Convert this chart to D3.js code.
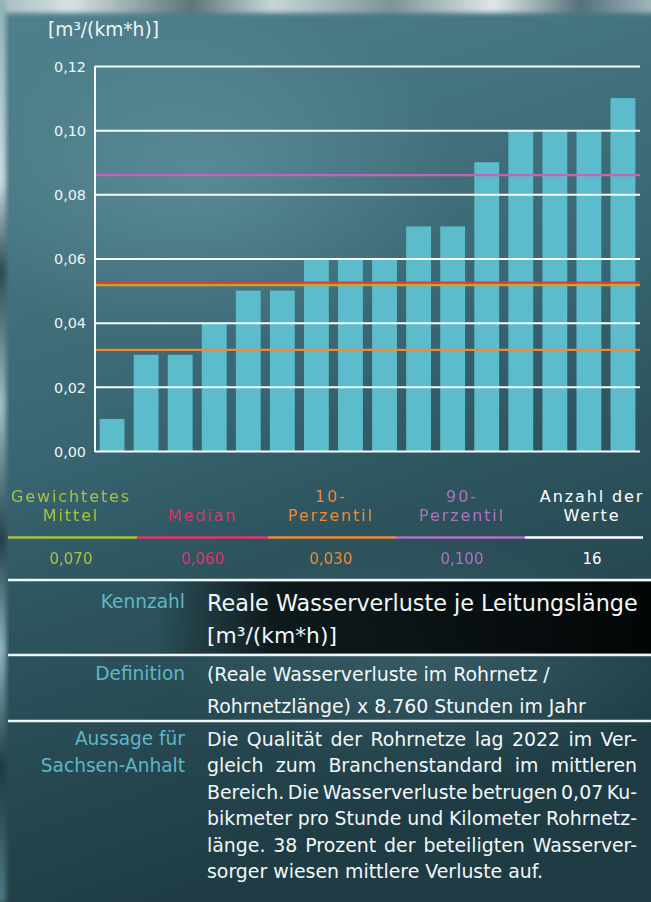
<!DOCTYPE html>
<html>
<head>
<meta charset="utf-8">
<script src="https://cdn.jsdelivr.net/npm/d3@7"></script>
<style>
  html, body { margin: 0; padding: 0; background: #3b6a76; }
  svg { display: block; font-family: "DejaVu Sans", "Noto Sans", sans-serif; }
</style>
</head>
<body>
<div id="chart"></div>
<script>
// Real water losses per pipe length, one bar per utility (sorted)
const barValues = [0.01, 0.03, 0.03, 0.04, 0.05, 0.05, 0.06, 0.06, 0.06, 0.07, 0.07, 0.09, 0.10, 0.10, 0.10, 0.11];
const yTicks = [0, 0.02, 0.04, 0.06, 0.08, 0.10, 0.12];
const yUnit = "[m³/(km*h)]";

// Reference lines drawn across the bars
const refKeys = ["mittel", "median", "p10", "p90"];
const refLevels = [0.0517, 0.0525, 0.0315, 0.086];

// Summary table under the chart
const statKeys = ["mittel", "median", "p10", "p90", "anzahl"];
const statHeads = [["Gewichtetes", "Mittel"], ["Median"], ["10-", "Perzentil"], ["90-", "Perzentil"], ["Anzahl der", "Werte"]];
const statValues = ["0,070", "0,060", "0,030", "0,100", "16"];

// Description rows
const rowLabels = [["Kennzahl"], ["Definition"], ["Aussage für", "Sachsen-Anhalt"]];
const rowTexts = [
  ["Reale Wasserverluste je Leitungslänge", "[m³/(km*h)]"],
  ["(Reale Wasserverluste im Rohrnetz /", "Rohrnetzlänge) x 8.760 Stunden im Jahr"],
  ["Die Qualität der Rohrnetze lag 2022 im Ver-",
   "gleich zum Branchenstandard im mittleren",
   "Bereich. Die Wasserverluste betrugen 0,07 Ku-",
   "bikmeter pro Stunde und Kilometer Rohrnetz-",
   "länge. 38 Prozent der beteiligten Wasserver-",
   "sorger wiesen mittlere Verluste auf."]
];

const colors = {
  mittel: "#a8c23c", median: "#e8336b", p10: "#ee8a3a", p90: "#b36fc2", anzahl: "#ffffff",
  bar: "#5cbccb", grid: "#f4fbfc", label: "#5fb6c9", text: "#f2f7f8"
};
const refColors = { mittel: "#c9a52a", median: "#e23a4a", p10: "#e98a3c", p90: "#c264b8" };

const W = 651, H = 902;
const svg = d3.select("#chart").append("svg").attr("width", W).attr("height", H);
const defs = svg.append("defs");

// font size at which a text run spans the given width
function sizeFor(sel, width) {
  const node = sel.node();
  const s = parseFloat(sel.attr("font-size"));
  return s * width / node.getComputedTextLength();
}
// word spacing that stretches a line to the given width (justified text)
function justify(sel, width) {
  const node = sel.node();
  const gaps = (node.textContent.match(/ /g) || []).length;
  if (gaps) sel.attr("word-spacing", (width - node.getComputedTextLength()) / gaps);
}
const byText = t => function () { return this.textContent === t; };

// ---- background ----
const bg = defs.append("linearGradient").attr("id", "bg").attr("x1", 0).attr("y1", 0).attr("x2", 0.25).attr("y2", 1);
[[0, "#4f818e"], [0.25, "#44747f"], [0.5, "#386571"], [0.62, "#2f5862"], [0.8, "#284a53"], [1, "#1f3c44"]]
  .forEach(([o, c]) => bg.append("stop").attr("offset", o).attr("stop-color", c));
svg.append("rect").attr("width", W).attr("height", H).attr("fill", "url(#bg)");

const glow = defs.append("radialGradient").attr("id", "glow").attr("cx", 0.5).attr("cy", 0.5).attr("r", 0.5);
glow.append("stop").attr("offset", 0).attr("stop-color", "#7fb2be").attr("stop-opacity", 0.35);
glow.append("stop").attr("offset", 1).attr("stop-color", "#7fb2be").attr("stop-opacity", 0);
svg.append("ellipse").attr("cx", 200).attr("cy", 180).attr("rx", 260).attr("ry", 170).attr("fill", "url(#glow)");
svg.append("ellipse").attr("cx", 430).attr("cy", 660).attr("rx", 260).attr("ry", 120).attr("fill", "url(#glow)").attr("opacity", 0.5);

const blur = defs.append("filter").attr("id", "soft").attr("x", -0.2).attr("y", -0.5).attr("width", 1.4).attr("height", 2);
blur.append("feGaussianBlur").attr("stdDeviation", 2.5);
const textSoft = defs.append("filter").attr("id", "tsoft");
textSoft.append("feGaussianBlur").attr("stdDeviation", 0.45);

// light strip along the top edge
const topStrip = defs.append("linearGradient").attr("id", "topStrip");
[[0, "#9fb8bd"], [0.12, "#d7e2e3"], [0.3, "#5d7479"], [0.42, "#c8d6d8"], [0.6, "#7d9499"], [0.75, "#e0e8e8"], [0.88, "#56707a"], [1, "#a8bfc3"]]
  .forEach(([o, c]) => topStrip.append("stop").attr("offset", o).attr("stop-color", c));
svg.append("rect").attr("x", -10).attr("y", -6).attr("width", W + 20).attr("height", 19)
  .attr("fill", "url(#topStrip)").attr("filter", "url(#soft)");

// darker strip along the left edge
const leftStrip = defs.append("linearGradient").attr("id", "leftStrip").attr("x1", 0).attr("y1", 0).attr("x2", 0).attr("y2", 1);
[[0, "#8fb0b8"], [0.2, "#c9dde0"], [0.3, "#2b4a52"], [0.45, "#9cc2ca"], [0.6, "#23414a"], [0.72, "#8fb6c0"], [0.85, "#1e3a42"], [1, "#4f7a86"]]
  .forEach(([o, c]) => leftStrip.append("stop").attr("offset", o).attr("stop-color", c));
svg.append("rect").attr("x", -6).attr("y", 0).attr("width", 12).attr("height", H)
  .attr("fill", "url(#leftStrip)").attr("filter", "url(#soft)");

// dark band behind the Kennzahl row
const band = defs.append("linearGradient").attr("id", "band");
band.append("stop").attr("offset", 0.24).attr("stop-color", "#000").attr("stop-opacity", 0);
band.append("stop").attr("offset", 0.42).attr("stop-color", "#000").attr("stop-opacity", 0.7);
band.append("stop").attr("offset", 1).attr("stop-color", "#000").attr("stop-opacity", 0.92);
svg.append("rect").attr("x", 0).attr("y", 582).attr("width", W).attr("height", 71).attr("fill", "url(#band)");

// ---- chart ----
const x = d3.scaleBand().domain(d3.range(barValues.length)).range([95, 640]).paddingInner(0.27).paddingOuter(0.135);
const y = d3.scaleLinear().domain([0, 0.12]).range([451, 66]);

const plot = svg.append("g");
plot.selectAll("rect.bar").data(barValues).join("rect").attr("class", "bar")
  .attr("x", (d, i) => x(i)).attr("width", x.bandwidth())
  .attr("y", d => y(d)).attr("height", d => y(0) - y(d))
  .attr("fill", colors.bar);

// horizontal grid + y axis
const yAxis = d3.axisLeft(y).tickValues(yTicks).tickSize(-(640 - 95)).tickPadding(9)
  .tickFormat(d => d3.format(".2f")(d).replace(".", ","));
const ax = plot.append("g").attr("transform", "translate(95,0)").call(yAxis);
ax.select(".domain").remove();
ax.selectAll(".tick line").attr("stroke", colors.grid).attr("stroke-width", 2);
const tickTexts = ax.selectAll(".tick text").attr("fill", "#eef6f7").attr("font-size", 15)
  .attr("font-family", "DejaVu Sans").attr("dy", "0.36em");
tickTexts.attr("font-size", sizeFor(tickTexts.filter(d => d === 0.1), 32));
plot.append("line").attr("x1", 95).attr("x2", 95).attr("y1", y(0.12)).attr("y2", y(0) + 1)
  .attr("stroke", colors.grid).attr("stroke-width", 2);

// reference lines
plot.selectAll("line.ref").data(refKeys).join("line").attr("class", "ref")
  .attr("x1", 96).attr("x2", 640)
  .attr("y1", (k, i) => y(refLevels[i])).attr("y2", (k, i) => y(refLevels[i]))
  .attr("stroke", k => refColors[k]).attr("stroke-width", 2.2);

const unit = svg.append("text").attr("x", 48).attr("y", 36).attr("fill", "#eef6f7").attr("font-size", 15).text(yUnit);
unit.attr("font-size", sizeFor(unit, 111));

// ---- summary table ----
const colEdges = [8, 137, 268, 396, 525, 643];
const colCenters = [71, 203, 331, 462, 592];
const stats = svg.append("g");
statKeys.forEach((k, i) => {
  const heads = statHeads[i];
  heads.forEach((t, j) => {
    stats.append("text").attr("class", "head").attr("x", colCenters[i]).attr("y", 521 - (heads.length - 1 - j) * 18.8)
      .attr("text-anchor", "middle").attr("fill", colors[k]).attr("font-size", 16)
      .attr("filter", k === "anzahl" ? null : "url(#tsoft)").text(t);
  });
  stats.append("line").attr("x1", colEdges[i]).attr("x2", colEdges[i + 1]).attr("y1", 537.5).attr("y2", 537.5)
    .attr("stroke", colors[k]).attr("stroke-width", 2.5);
  stats.append("text").attr("class", "val").attr("x", colCenters[i]).attr("y", 564).attr("text-anchor", "middle")
    .attr("fill", colors[k]).attr("font-size", 15)
    .attr("filter", k === "anzahl" ? null : "url(#tsoft)").text(statValues[i]);
});
const heads = stats.selectAll("text.head");
const headLen = heads.filter(byText("Gewichtetes")).node().getComputedTextLength();
heads.attr("letter-spacing", (120 - headLen) / 11);
const vals = stats.selectAll("text.val");
vals.attr("font-size", sizeFor(vals.filter(byText("0,070")), 43));

// ---- description rows ----
const sepY = [580, 655, 721];
svg.selectAll("line.sep").data(sepY).join("line").attr("class", "sep")
  .attr("x1", 8).attr("x2", W).attr("y1", d => d).attr("y2", d => d)
  .attr("stroke", "#eef6f7").attr("stroke-width", 2.5);

const labelG = svg.append("g");
rowLabels.forEach((lines, r) => {
  lines.forEach((t, j) => {
    labelG.append("text").attr("x", 185).attr("y", [608, 680, 745][r] + j * 26.5)
      .attr("text-anchor", "end").attr("fill", colors.label).attr("font-size", 15).text(t);
  });
});
const labels = labelG.selectAll("text");
labels.attr("font-size", (sizeFor(labels.filter(byText("Sachsen-Anhalt")), 148) + sizeFor(labels.filter(byText("Kennzahl")), 82)) / 2);

// Kennzahl
const kz = svg.append("g");
const kzTitle = kz.append("text").attr("x", 207).attr("y", 611).attr("fill", colors.text).attr("font-size", 22).text(rowTexts[0][0]);
kzTitle.attr("font-size", sizeFor(kzTitle, 431));
const kzUnit = kz.append("text").attr("x", 207).attr("y", 643).attr("fill", colors.text).attr("font-size", 18).text(rowTexts[0][1]);
kzUnit.attr("font-size", sizeFor(kzUnit, 130));

// Definition and statement share one body size
const body = svg.append("g").attr("fill", colors.text);
const defLines = body.selectAll("text.def").data(rowTexts[1]).join("text").attr("class", "def")
  .attr("x", 207).attr("y", (d, i) => 681 + i * 32).attr("font-size", 16).text(d => d);
const stmt = body.selectAll("text.stmt").data(rowTexts[2]).join("text").attr("class", "stmt")
  .attr("x", 207).attr("y", (d, i) => 746 + i * 26.4).attr("font-size", 16).text(d => d);
const bodySize = (sizeFor(d3.select(defLines.nodes()[1]), 371) + sizeFor(d3.select(stmt.nodes()[0]), 422)) / 2;
defLines.attr("font-size", bodySize);
stmt.attr("font-size", bodySize);
stmt.each(function (d, i) {
  if (i < rowTexts[2].length - 1) justify(d3.select(this), 430);
});
</script>
</body>
</html>
